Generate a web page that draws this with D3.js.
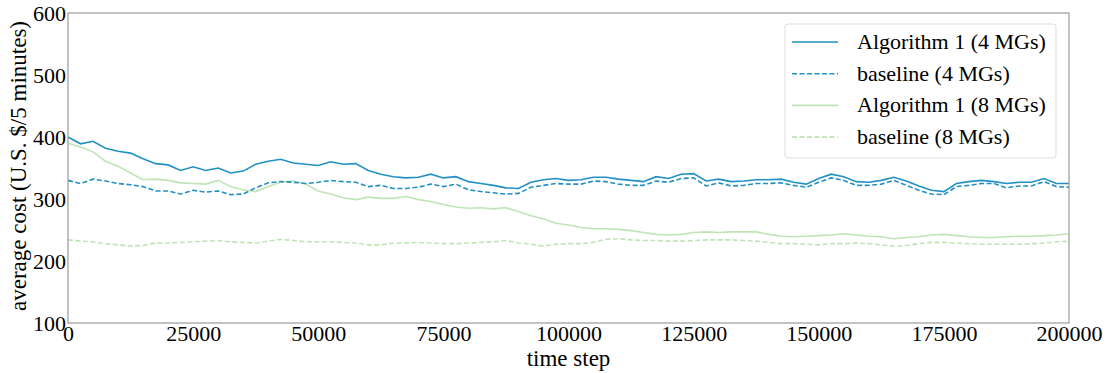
<!DOCTYPE html>
<html>
<head>
<meta charset="utf-8">
<script src="https://cdn.jsdelivr.net/npm/d3@7"></script>
<style>
  body { margin: 0; background: #fff; }
</style>
</head>
<body>
<div id="content"></div>
<script>
// time steps, every 2500
const STEPS = d3.range(0, 200001, 2500);

const ALG_4 = [400, 389, 393, 382, 377, 374, 365, 357, 355, 346, 352, 346, 350, 342, 345, 356, 361, 364, 358, 356,
  354, 360, 356, 357, 346, 340, 336, 334, 335, 340, 334, 336, 328, 325, 322, 318, 317, 327, 331, 333,
  330, 331, 335, 335, 332, 330, 328, 336, 333, 340, 341, 329, 332, 328, 329, 331, 331, 332, 327, 324,
  333, 340, 336, 328, 327, 330, 335, 329, 321, 314, 312, 325, 328, 330, 328, 325, 327, 327, 333, 325, 325];

const BASE_4 = [330, 325, 332, 329, 325, 323, 320, 313, 313, 308, 314, 311, 313, 307, 308, 318, 326, 328, 327, 325,
  327, 330, 328, 327, 320, 322, 317, 317, 319, 324, 320, 324, 315, 312, 310, 308, 309, 319, 322, 325,
  324, 324, 329, 328, 324, 322, 322, 329, 327, 333, 334, 321, 326, 321, 322, 325, 325, 326, 322, 319,
  327, 334, 330, 322, 322, 324, 330, 322, 314, 308, 307, 320, 322, 325, 325, 318, 321, 321, 328, 320, 319];

const ALG_8 = [390, 384, 376, 361, 353, 342, 331, 332, 330, 326, 325, 324, 330, 320, 315, 312, 320, 327, 329, 324,
  313, 308, 302, 299, 303, 301, 301, 304, 299, 296, 291, 287, 285, 286, 284, 286, 280, 273, 268, 261,
  258, 254, 252, 252, 251, 249, 246, 243, 242, 243, 246, 247, 246, 247, 247, 247, 243, 240, 239, 240,
  241, 242, 244, 242, 240, 239, 236, 238, 239, 242, 243, 241, 239, 238, 238, 239, 240, 240, 241, 242, 244];

const BASE_8 = [234, 232, 231, 228, 226, 224, 225, 229, 229, 230, 231, 232, 233, 231, 230, 229, 232, 235, 233, 231,
  231, 231, 230, 229, 226, 226, 229, 229, 230, 229, 228, 228, 229, 230, 231, 233, 229, 227, 224, 227,
  228, 228, 230, 235, 236, 234, 233, 233, 232, 232, 233, 234, 234, 234, 233, 232, 230, 228, 228, 227,
  226, 228, 228, 229, 228, 226, 224, 225, 228, 230, 230, 229, 228, 227, 227, 227, 227, 228, 229, 231, 232];

const SERIES = [
  {name: 'Algorithm 1 (4 MGs)', values: ALG_4, color: '#2290c4', dash: null},
  {name: 'baseline (4 MGs)', values: BASE_4, color: '#2290c4', dash: '5,2.5'},
  {name: 'Algorithm 1 (8 MGs)', values: ALG_8, color: '#bfe5b6', dash: null},
  {name: 'baseline (8 MGs)', values: BASE_8, color: '#bfe5b6', dash: '5,2.5'}
];

const X_TICKS = [0, 25000, 50000, 75000, 100000, 125000, 150000, 175000, 200000];
const Y_TICKS = [100, 200, 300, 400, 500, 600];

var totalWidth = 1109;
var totalHeight = 373;
var padLeft = 68, padRight = 1069, padTop = 13, padBottom = 323;
var fontFamily = '"Liberation Serif", "Times New Roman", Times, serif';
var fontSize = '22px';
var labelSize = '23px';

var svg = d3.select('#content')
  .append('svg')
  .attr('width', totalWidth)
  .attr('height', totalHeight)
  .attr('font-family', fontFamily);

var xScale = d3.scaleLinear().domain([0, 200000]).range([padLeft, padRight]);
var yScale = d3.scaleLinear().domain([100, 600]).range([padBottom, padTop]);

var line = d3.line()
  .x(function (d, i) {return xScale(STEPS[i]);})
  .y(function (d) {return yScale(d);});

// draw in reverse so the blue ones are on top
svg.selectAll('.series')
  .data(SERIES.slice().reverse())
  .enter()
  .append('path')
  .attr('class', 'series')
  .attr('fill', 'none')
  .attr('stroke', function (s) {return s.color;})
  .attr('stroke-width', 1.6)
  .attr('stroke-dasharray', function (s) {return s.dash;})
  .attr('d', function (s) {return line(s.values);});

// frame
svg.append('rect')
  .attr('x', padLeft).attr('y', padTop)
  .attr('width', padRight - padLeft).attr('height', padBottom - padTop)
  .attr('fill', 'none')
  .attr('stroke', '#999')
  .attr('stroke-width', 1.2);

var xAxis = d3.axisBottom(xScale)
  .tickValues(X_TICKS)
  .tickFormat(d3.format('d'))
  .tickSizeInner(0)
  .tickSizeOuter(0)
  .tickPadding(2);

svg.append('g')
  .attr('class', 'x-axis')
  .attr('transform', 'translate(0, ' + padBottom + ')')
  .call(xAxis);

var yAxis = d3.axisLeft(yScale)
  .tickValues(Y_TICKS)
  .tickSizeInner(0)
  .tickSizeOuter(0)
  .tickPadding(2);

svg.append('g')
  .attr('class', 'y-axis')
  .attr('transform', 'translate(' + padLeft + ', 0)')
  .call(yAxis);

svg.selectAll('.domain').remove();
svg.selectAll('.x-axis, .y-axis')
  .attr('font-family', fontFamily)
  .attr('font-size', fontSize);
svg.selectAll('.tick text').attr('fill', '#000');

svg.append('text')
  .attr('x', (padLeft + padRight) / 2)
  .attr('y', 366)
  .attr('text-anchor', 'middle')
  .attr('font-size', labelSize)
  .text('time step');

svg.append('text')
  .attr('transform', 'translate(26, ' + 166 + ') rotate(-90)')
  .attr('text-anchor', 'middle')
  .attr('font-size', labelSize)
  .text('average cost (U.S. $/5 minutes)');

// legend
var legend = svg.append('g').attr('class', 'legend');
legend.append('rect')
  .attr('x', 785).attr('y', 24)
  .attr('width', 271).attr('height', 134)
  .attr('rx', 3)
  .attr('fill', '#fff')
  .attr('fill-opacity', 0.85)
  .attr('stroke', '#ddd');

var rows = legend.selectAll('.row')
  .data(SERIES)
  .enter()
  .append('g')
  .attr('class', 'row')
  .attr('transform', function (s, i) {return 'translate(0, ' + (42 + i * 31.7) + ')';});

rows.append('line')
  .attr('x1', 792).attr('x2', 838)
  .attr('stroke', function (s) {return s.color;})
  .attr('stroke-width', 1.6)
  .attr('stroke-dasharray', function (s) {return s.dash;});

rows.append('text')
  .attr('x', 857)
  .attr('y', 7)
  .attr('font-size', fontSize)
  .text(function (s) {return s.name;});
</script>
</body>
</html>
